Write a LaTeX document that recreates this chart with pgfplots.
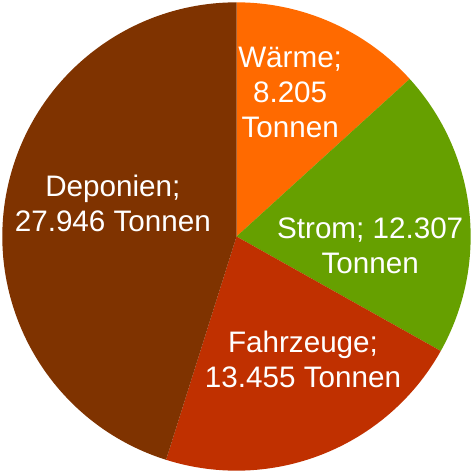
\documentclass[border=0pt]{standalone}
\usepackage{pgfplots}
\usepackage{pgfplotstable}
\pgfplotsset{compat=1.18}
\usepackage{fontspec}
\setmainfont{Liberation Sans}
\definecolor{cW}{HTML}{FF6A00}
\definecolor{cS}{HTML}{66A000}
\definecolor{cF}{HTML}{C03000}
\definecolor{cD}{HTML}{7F3300}
\pgfplotstableread{
value col
8.205 cW
12.307 cS
13.455 cF
27.946 cD
}\piedata
\begin{document}
\begin{tikzpicture}
\pgfplotstablegetrowsof{\piedata}
\pgfmathtruncatemacro\nlast{\pgfplotsretval-1}
\xdef\nlast{\nlast}
\gdef\total{0}
\foreach \i in {0,...,\nlast}{
  \pgfplotstablegetelem{\i}{value}\of\piedata
  \pgfmathsetmacro\tmpt{\total+\pgfplotsretval}
  \xdef\total{\tmpt}
}
\gdef\cum{0}
\foreach \i in {0,...,\nlast}{
  \pgfplotstablegetelem{\i}{value}\of\piedata
  \pgfmathsetmacro\sa{90-360*(\cum/\total)}
  \pgfmathsetmacro\cc{\cum+\pgfplotsretval}
  \xdef\cum{\cc}
  \pgfmathsetmacro\ea{90-360*(\cum/\total)}
  \expandafter\xdef\csname sa\i\endcsname{\sa}
  \expandafter\xdef\csname ea\i\endcsname{\ea}
  \pgfplotstablegetelem{\i}{col}\of\piedata
  \expandafter\xdef\csname col\i\endcsname{\pgfplotsretval}
}
\begin{axis}[
  x=4cm, y=4cm,
  xmin=-1.01, xmax=1.0, ymin=-1.01, ymax=1.01,
  hide axis, clip=false,
]
\path (axis cs:-1.01,-1.01) rectangle (axis cs:1.0,1.01);
\pgfplotsforeachungrouped \i in {0,...,3}{
  \edef\temp{\noexpand\fill[overlay, fill=\csname col\i\endcsname] (axis cs:0,0) -- ++(\csname sa\i\endcsname:4cm) arc[start angle=\csname sa\i\endcsname, end angle=\csname ea\i\endcsname, radius=4cm] -- cycle;}
  \temp
}
\tikzset{lbl/.style={align=center, text=white, font=\fontsize{14.4}{17}\selectfont}}
\node[lbl] at (axis cs:0.229,0.615) {Wärme;\\8.205\\Tonnen};
\node[lbl] at (axis cs:0.571,-0.041) {Strom; 12.307\\Tonnen};
\node[lbl] at (axis cs:0.284,-0.524) {Fahrzeuge;\\13.455 Tonnen};
\node[lbl] at (axis cs:-0.528,0.143) {Deponien;\\27.946 Tonnen};
\end{axis}
\end{tikzpicture}
\end{document}
